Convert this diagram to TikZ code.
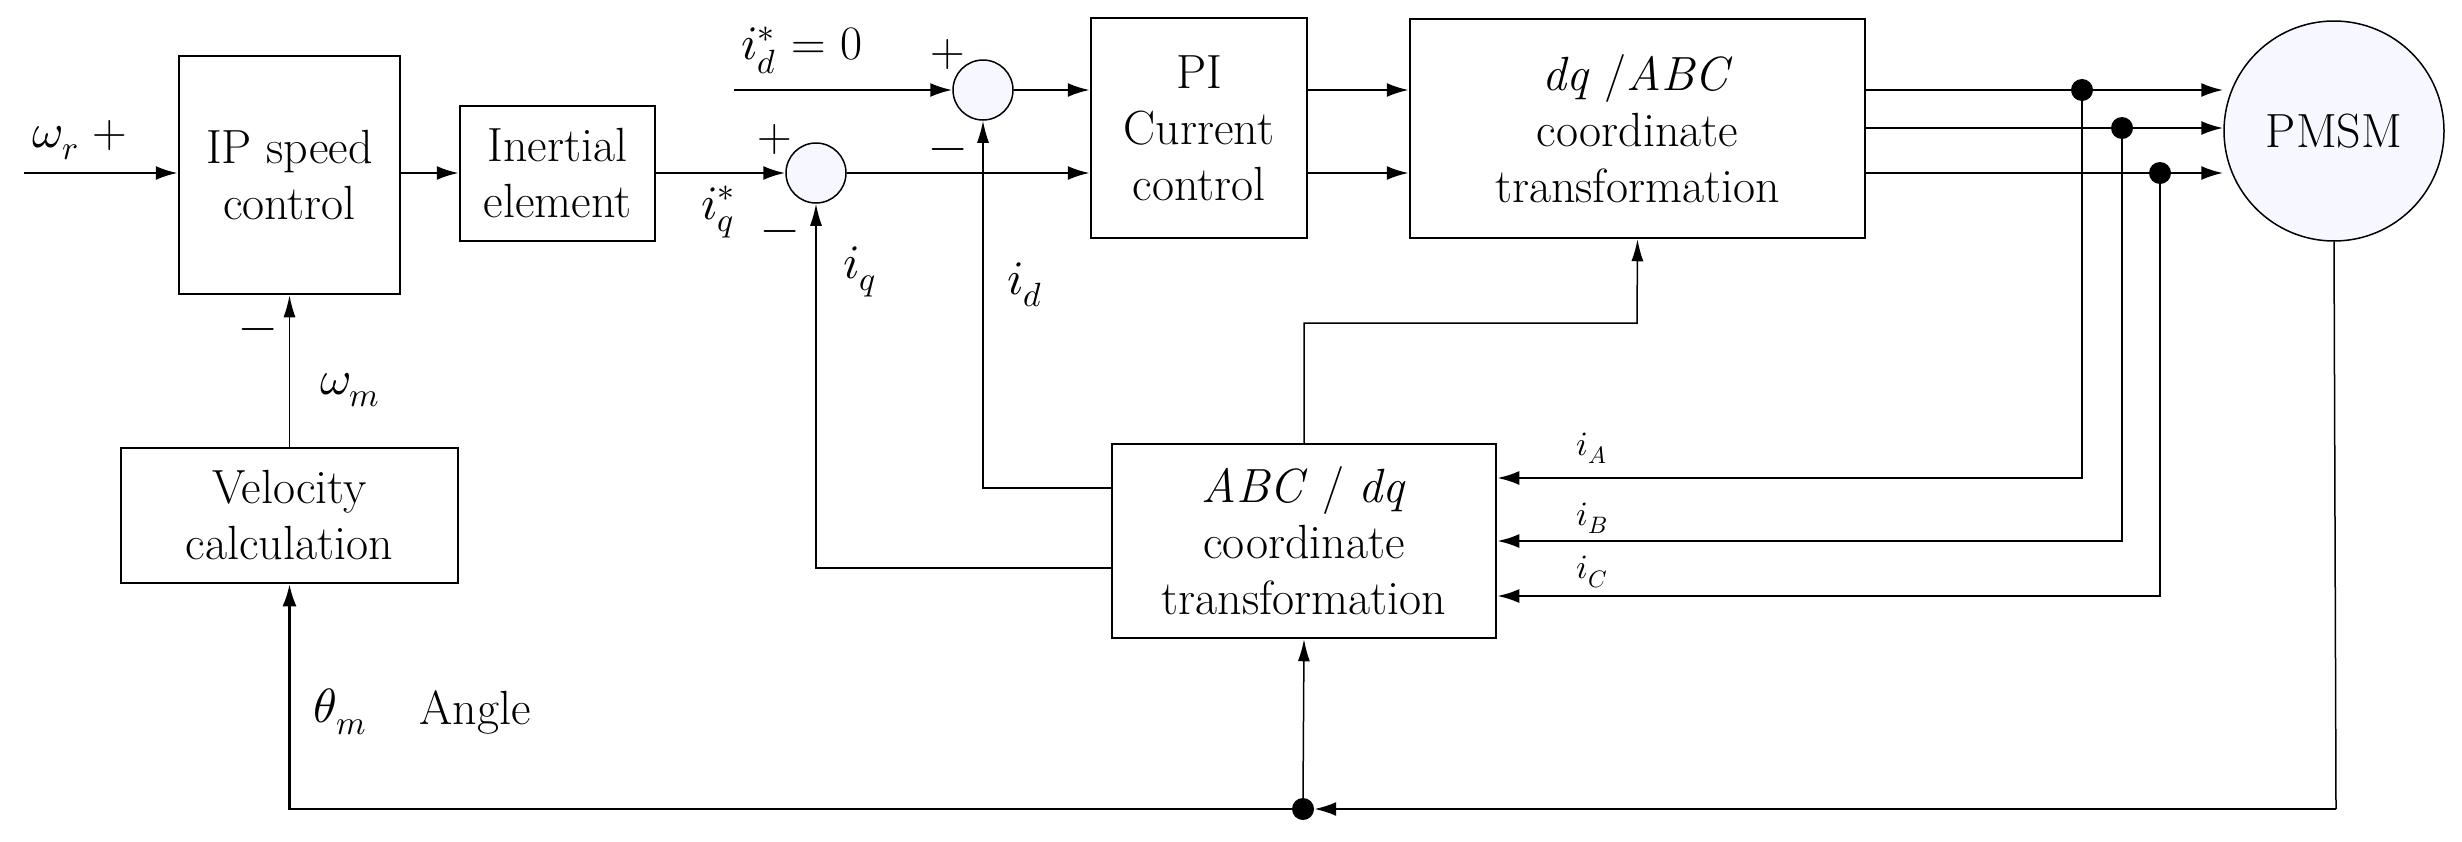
\documentclass[tikz,border=0pt]{standalone}
\usepackage{fix-cm}
\usepackage{unicode-math}
\usetikzlibrary{arrows.meta}
\begin{document}
\begin{tikzpicture}[x=1pt,y=-1pt,
  every node/.style={font=\fontsize{48}{56}\selectfont},
  box/.style={draw,line width=2.5pt,inner sep=0pt,align=center},
  sum/.style={draw,circle,line width=1.5pt,minimum size=60pt,inner sep=0pt,fill=blue!3},
  ar/.style={line width=2.5pt,-{Latex[length=22pt,width=14pt]}},
  tar/.style={line width=1.5pt,-{Latex[length=22pt,width=12pt]}},
  ln/.style={line width=1.5pt},
  dot/.style={circle,fill,inner sep=0pt,minimum width=16pt,minimum height=22pt},
  lab/.style={inner sep=1pt}]
\useasboundingbox (0,0) rectangle (2462,841);
\node[box,minimum width=221pt,minimum height=238pt] (ip) at (289.5,175) {IP speed\\control};
\node[box,minimum width=195pt,minimum height=135pt] (in) at (557.5,173.5) {Inertial\\element};
\node[sum] (sq) at (816,173) {};
\node[sum] (sd) at (983,90) {};
\node[box,minimum width=216pt,minimum height=220pt] (pi) at (1199,128) {PI\\Current\\control};
\node[box,minimum width=455pt,minimum height=219pt] (dq) at (1637.5,128.5) {\textit{dq} /\textit{ABC}\\coordinate\\transformation};
\node[draw,circle,line width=1.5pt,minimum size=220pt,inner sep=0pt,fill=blue!3] (pm) at (2334,131) {PMSM};
\node[box,minimum width=337pt,minimum height=135pt] (vc) at (289.5,515.5) {Velocity\\calculation};
\node[box,minimum width=384pt,minimum height=194pt] (ab) at (1304,541) {\textit{ABC} / \textit{dq}\\coordinate\\transformation};
\coordinate (in0) at (24,173);
\coordinate (id0) at (734,90);
\coordinate (sd0) at (2082,90);
\coordinate (sd1) at (2122,128);
\coordinate (sd2) at (2160,173);
\coordinate (bot) at (1303,809);
\node[dot] (d0) at (sd0) {};
\node[dot] (d1) at (sd1) {};
\node[dot] (d2) at (sd2) {};
\node[dot] (db) at (bot) {};
% forward path
\draw[ar] (in0) -- (ip.west |- in0);
\draw[ar] (ip.east |- in0) -- (in.west |- in0);
\draw[ar] (in.east |- in0) -- (sq.west);
\draw[ar] (sq.east) -- (pi.west |- sq.east);
\draw[ar] (id0) -- (sd.west);
\draw[ar] (sd.east) -- (pi.west |- sd.east);
\draw[ar] (pi.east |- sd.east) -- (dq.west |- sd.east);
\draw[ar] (pi.east |- sq.east) -- (dq.west |- sq.east);
\draw[ar] (dq.east |- sd0) -- (pm.west |- sd0);
\draw[ar] (dq.east |- sd1) -- (pm.west |- sd1);
\draw[ar] (dq.east |- sd2) -- (pm.west |- sd2);
% current feedback
\draw[ar] (sd0) |- (ab.east |- 0,478);
\draw[ar] (sd1) |- (ab.east |- 0,541);
\draw[ar] (sd2) |- (ab.east |- 0,596);
\draw[tar] (ab.west |- 0,488) -| (sd.south);
\draw[tar] (ab.west |- 0,568) -| (sq.south);
\draw[tar] (ab.north) |- (1637,323) -- (dq.south);
% angle feedback
\draw[ln] (pm.south) -- (2336,809);
\draw[ar] (2336,809) -- (db.east);
\draw[ar] (db.west) -| (vc.south);
\draw[tar] (db.north) -- (ab.south);
\draw[tar] (vc.north) -- (ip.south);
% labels
\node[lab] at (80,140) {$\omega_r$ +};
\node[lab] at (775,140) {+};
\node[lab] at (780,237) {$-$};
\node[lab] at (718,212) {$i_q^*$};
\node[lab] at (948,55) {+};
\node[lab,anchor=west] at (740,50) {$i_d^*$ = 0};
\node[lab] at (948,155) {$-$};
\node[lab] at (860,272) {$i_q$};
\node[lab] at (1025,285) {$i_d$};
\node[lab] at (258,335) {$-$};
\node[lab] at (350,390) {$\omega_m$};
\node[lab,font=\fontsize{34}{40}\selectfont] at (1592,448) {$i_A$};
\node[lab,font=\fontsize{34}{40}\selectfont] at (1592,518) {$i_B$};
\node[lab,font=\fontsize{34}{40}\selectfont] at (1592,572) {$i_C$};
\node[lab] at (340,712) {$\theta_m$};
\node[lab] at (475,712) {Angle};
\end{tikzpicture}
\end{document}
